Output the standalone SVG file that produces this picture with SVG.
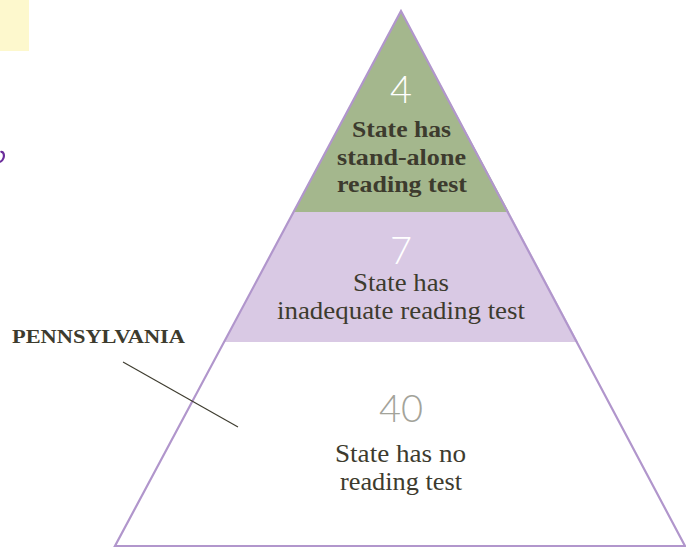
<svg xmlns="http://www.w3.org/2000/svg" width="686" height="548" viewBox="0 0 686 548">
<style>
.lbl{font-family:"Liberation Serif","Times New Roman",serif;font-size:25px;fill:#3d3b2e;text-anchor:middle}
.b{font-weight:bold;font-size:24px}
.num{font-family:Lato,"Open Sans","DejaVu Sans",sans-serif;font-weight:300;font-size:38px;text-anchor:middle}
</style>
<rect x="0" y="0" width="29" height="51" fill="#fdf8cd"/>
<path d="M0.5,152 C3.5,151 4.5,155 3.5,158 C2.8,160 1.5,161.5 0,162" fill="none" stroke="#6b2d9b" stroke-width="2.2"/>
<g id="tier-top">
<polygon points="401,11 293,212 509,212" fill="#a4b78d"/>
<text class="num" x="401" y="103" fill="#ffffff">4</text>
<text class="lbl b" x="401.5" y="137" textLength="99" lengthAdjust="spacingAndGlyphs">State has</text>
<text class="lbl b" x="401.5" y="165" textLength="129" lengthAdjust="spacingAndGlyphs">stand-alone</text>
<text class="lbl b" x="402" y="192" textLength="130" lengthAdjust="spacingAndGlyphs">reading test</text>
</g>
<g id="tier-middle">
<polygon points="293,212 509,212 578,342 224,342" fill="#d9c9e4"/>
<text class="num" x="401" y="264" fill="#ffffff">7</text>
<text class="lbl" x="401" y="291" textLength="96" lengthAdjust="spacingAndGlyphs">State has</text>
<text class="lbl" x="401" y="319" textLength="248" lengthAdjust="spacingAndGlyphs">inadequate reading test</text>
</g>
<g id="tier-bottom">
<text class="num" x="401" y="422" fill="#a3a39a">40</text>
<text class="lbl" x="400.5" y="462" textLength="131" lengthAdjust="spacingAndGlyphs">State has no</text>
<text class="lbl" x="401" y="490" textLength="122" lengthAdjust="spacingAndGlyphs">reading test</text>
</g>
<g id="outline">
<polygon points="401,11 115,546 685,546" fill="none" stroke="#b196cc" stroke-width="2.2" stroke-linejoin="miter"/>
</g>
<g id="pennsylvania">
<text x="12" y="343" font-family="'Liberation Serif','Times New Roman',serif" font-weight="bold" font-size="18.5" fill="#3d3b2e" textLength="173" lengthAdjust="spacingAndGlyphs">PENNSYLVANIA</text>
</g>
<g id="connectors">
<line x1="123" y1="362" x2="238" y2="427" stroke="#3d3b2e" stroke-width="1.1"/>
</g>
</svg>
